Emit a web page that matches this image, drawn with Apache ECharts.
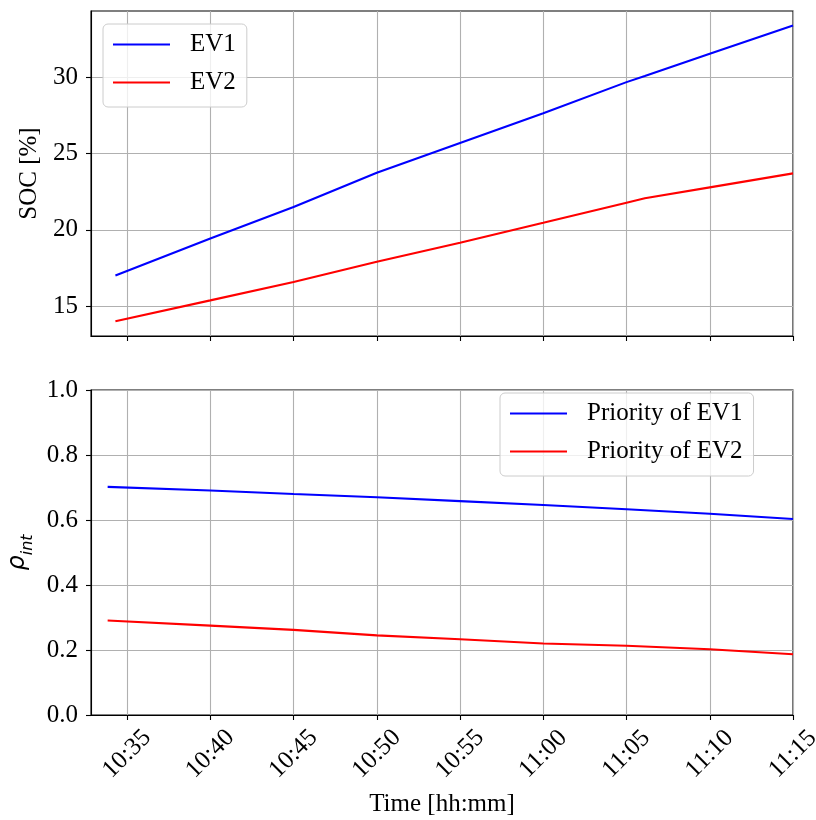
<!DOCTYPE html>
<html>
<head>
<meta charset="utf-8">
<script src="https://cdn.jsdelivr.net/npm/echarts@6.0.0/dist/echarts.min.js"></script>
<style>
	html,body{margin:0;padding:0;background:#fff;}
	#evChart{width:816px;height:820px;}
</style>
</head>
<body>
<div id="evChart"></div>
<script>
// SOC 数据 (上图)
var socTimes = ['10:34:18','10:40:00','10:45:00','10:50:00','10:55:00','11:00:00','11:05:00','11:06:06','11:10:00','11:15:00'];
var ev1Soc = [17.0, 19.43, 21.5, 23.75, 25.7, 27.66, 29.7, 30.1, 31.56, 33.42];
var ev2Soc = [14.0, 15.37, 16.58, 17.9, 19.15, 20.46, 21.78, 22.07, 22.79, 23.71];

// 优先级数据 (下图)
var prioTimes = ['10:33:50','10:40:00','10:45:00','10:50:00','10:55:00','11:00:00','11:05:00','11:10:00','11:15:00'];
var ev1Prio = [0.702, 0.691, 0.680, 0.670, 0.658, 0.646, 0.633, 0.619, 0.603];
var ev2Prio = [0.291, 0.275, 0.262, 0.245, 0.233, 0.220, 0.213, 0.2025, 0.187];

// 刻度
var xTickLabels = ['10:35','10:40','10:45','10:50','10:55','11:00','11:05','11:10','11:15'];
var socTicks = [15, 20, 25, 30];

var xMin = '10:32:50', xMax = '11:15:00';
var socMin = 13.03, socMax = 34.37;

function toMin(s){
	var p = s.split(':');
	return (+p[0] - 10) * 60 + (+p[1]) + (p[2] ? (+p[2]) / 60 : 0);
}
function minToStr(m){
	var t = Math.round(m);
	var h = 10 + Math.floor(t / 60), mm = t % 60;
	return h + ':' + (mm < 10 ? '0' + mm : mm);
}
function pairs(times, vals){
	return times.map(function(t, i){ return [toMin(t), vals[i]]; });
}

var xTickVals = xTickLabels.map(toMin);
var serif = 'Liberation Serif';

function xAxisCfg(idx, showLabel){
	return {
		type:'value',
		gridIndex:idx,
		min:toMin(xMin),
		max:toMin(xMax),
		axisLine:{show:true, onZero:false, lineStyle:{color:'#000', width:1.1}},
		axisTick:{show:true, length:5, customValues:xTickVals, lineStyle:{color:'#000', width:1.1}},
		axisLabel:{
			show:showLabel,
			customValues:xTickVals,
			rotate:45,
			align:'center',
			verticalAlign:'middle',
			margin:39,
			color:'#000',
			fontFamily:serif,
			fontSize:25,
			formatter:function(v){ return minToStr(v); }
		},
		splitLine:{show:true, lineStyle:{color:'#b0b0b0', width:1.1}}
	};
}

// 图例样式 (矩形当作线段)
function legendCfg(names, left, top){
	return {
		data:names,
		orient:'vertical',
		left:left, top:top,
		padding:[8,11,12,10],
		icon:'rect',
		itemWidth:57, itemHeight:2, itemGap:13,
		backgroundColor:'rgba(255,255,255,0.8)',
		borderColor:'#cccccc', borderWidth:1, borderRadius:5,
		textStyle:{fontFamily:serif, fontSize:25, lineHeight:25, color:'#000', padding:[0,0,0,15]}
	};
}

var evChart = echarts.init(document.getElementById('evChart'));
var optionEv = {
	animation:false,
	grid:[
		{left:91, top:11, width:702, height:325, show:true, borderColor:'#000', borderWidth:1.1, outerBoundsMode:'none'},
		{left:91, top:390, width:702, height:325, show:true, borderColor:'#000', borderWidth:1.1, outerBoundsMode:'none'}
	],
	legend:[
		legendCfg(['EV1','EV2'], 103, 24),
		legendCfg(['Priority of EV1','Priority of EV2'], 500, 393)
	],
	xAxis:[
		xAxisCfg(0, false),
		(function(){
			var a = xAxisCfg(1, true);
			a.name = 'Time [hh:mm]';
			a.nameLocation = 'middle';
			a.nameGap = 77;
			a.nameTextStyle = {fontFamily:serif, fontSize:25, color:'#000'};
			return a;
		})()
	],
	yAxis:[
		{
			type:'value',
			gridIndex:0,
			min:socMin, max:socMax,
			name:'SOC [%]',
			nameLocation:'middle',
			nameGap:47,
			nameTextStyle:{fontFamily:serif, fontSize:25, color:'#000'},
			axisLine:{show:true, lineStyle:{color:'#000', width:1.1}},
			axisTick:{show:true, length:5, customValues:socTicks, lineStyle:{color:'#000', width:1.1}},
			axisLabel:{customValues:socTicks, margin:13, color:'#000', fontFamily:serif, fontSize:25},
			splitLine:{show:true, lineStyle:{color:'#b0b0b0', width:1.1}}
		},
		{
			type:'value',
			gridIndex:1,
			min:0, max:1, interval:0.2,
			name:'{a|ρ}{b|int}',
			nameLocation:'middle',
			nameGap:42,
			nameTextStyle:{
				color:'#000',
				rich:{
					a:{fontFamily:'DejaVu Sans', fontStyle:'italic', fontSize:24, lineHeight:30, verticalAlign:'top', color:'#000'},
					b:{fontFamily:'DejaVu Sans', fontStyle:'italic', fontSize:16, lineHeight:16, verticalAlign:'bottom', color:'#000'}
				}
			},
			axisLine:{show:true, lineStyle:{color:'#000', width:1.1}},
			axisTick:{show:true, length:5, lineStyle:{color:'#000', width:1.1}},
			axisLabel:{margin:13, color:'#000', fontFamily:serif, fontSize:25, formatter:function(v){ return v.toFixed(1); }},
			splitLine:{show:true, lineStyle:{color:'#b0b0b0', width:1.1}}
		}
	],
	series:[
		{name:'EV1', type:'line', xAxisIndex:0, yAxisIndex:0, symbol:'none', color:'#0000ff', lineStyle:{width:2.1}, data:pairs(socTimes, ev1Soc)},
		{name:'EV2', type:'line', xAxisIndex:0, yAxisIndex:0, symbol:'none', color:'#ff0000', lineStyle:{width:2.1}, data:pairs(socTimes, ev2Soc)},
		{name:'Priority of EV1', type:'line', xAxisIndex:1, yAxisIndex:1, symbol:'none', color:'#0000ff', lineStyle:{width:2.1}, data:pairs(prioTimes, ev1Prio)},
		{name:'Priority of EV2', type:'line', xAxisIndex:1, yAxisIndex:1, symbol:'none', color:'#ff0000', lineStyle:{width:2.1}, data:pairs(prioTimes, ev2Prio)}
	]
};
evChart.setOption(optionEv);
</script>
</body>
</html>
